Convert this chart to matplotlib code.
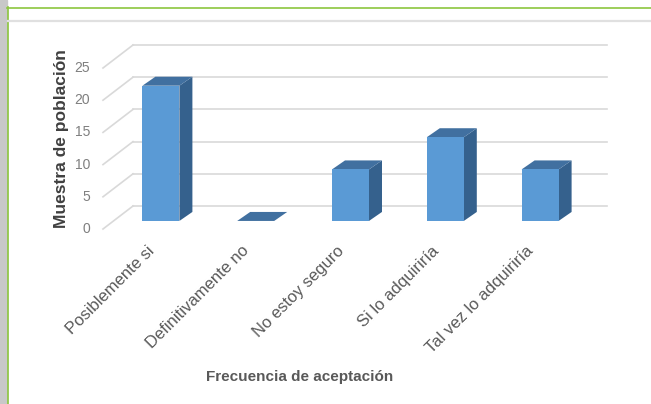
import numpy as np
import matplotlib
matplotlib.use('Agg')
import matplotlib.pyplot as plt
from matplotlib.patches import Polygon, Rectangle
from matplotlib.lines import Line2D

# datos
categorias = ['Posiblemente si', 'Definitivamente no', 'No estoy seguro',
              'Si lo adquiriría', 'Tal vez lo adquiriría']
valores = [21, 0, 8, 13, 8]
yticks = [0, 5, 10, 15, 20, 25]

# proyeccion oblicua (unidades de categoria / de valor)
px_cat = 94.8
px_val = 6.44
fondo_dx = 30 / px_cat      # profundidad del piso
fondo_dy = 23 / px_val
frente = 0.35               # fraccion de profundidad donde empieza la barra
prof_dx = 13 / px_cat       # profundidad de la barra
prof_dy = 9 / px_val
ancho = 37 / px_cat

c_frente = '#5a9ad5'
c_lado = '#35618d'
c_tope = '#4170a0'
c_grid = '#d9d9d9'
c_texto = '#595959'

W, H = 651, 404
fig = plt.figure(figsize=(W / 100, H / 100), dpi=100)
ax = fig.add_axes([0, 0, 1, 1])
# ejes que ocupan toda la figura, front plane: x=-0.5 en px 103, y=0 en px 229
x0 = -0.5 - 103 / px_cat
ax.set_xlim(x0, x0 + W / px_cat)
ax.set_ylim(-(H - 229) / px_val, 229 / px_val)
ax.axis('off')

# marco de la pagina (en fraccion de figura)
fig.patches.append(Rectangle((0, 0), 7 / W, 1, transform=fig.transFigure,
                             color='#c8c8c8', zorder=0))
fig.lines.append(Line2D([7.5 / W, 7.5 / W], [0, 1 - 7 / H], transform=fig.transFigure,
                        color='#8cc63e', lw=1.2))
fig.lines.append(Line2D([7 / W, 1], [1 - 7.5 / H, 1 - 7.5 / H], transform=fig.transFigure,
                        color='#8cc63e', lw=1.2))
fig.lines.append(Line2D([8 / W, 1], [1 - 21 / H, 1 - 21 / H], transform=fig.transFigure,
                        color='#e0e0e0', lw=1.6))

n = len(categorias)
xl, xr = -0.5, n - 0.5
# paredes: lineas de cuadricula
for t in yticks:
    ax.plot([xl + fondo_dx, xr + fondo_dx], [t + fondo_dy, t + fondo_dy],
            color=c_grid, lw=1.2, zorder=1)
    ax.plot([xl, xl + fondo_dx], [t, t + fondo_dy], color=c_grid, lw=1.2, zorder=1)
    ax.text(xl - 13 / px_cat, t, str(t), ha='right', va='center',
            fontsize=10, color='#7f7f7f', family='Liberation Sans')

# barras 3d
for i, v in enumerate(valores):
    bx = i - ancho / 2 + frente * fondo_dx
    by = frente * fondo_dy
    ax.add_patch(Polygon([(bx + ancho, by), (bx + ancho + prof_dx, by + prof_dy),
                          (bx + ancho + prof_dx, by + v + prof_dy), (bx + ancho, by + v)],
                         closed=True, fc=c_lado, ec='none', zorder=3))
    ax.add_patch(Polygon([(bx, by + v), (bx + prof_dx, by + v + prof_dy),
                          (bx + ancho + prof_dx, by + v + prof_dy), (bx + ancho, by + v)],
                         closed=True, fc=c_tope, ec='none', zorder=3))
    if v > 0:
        ax.bar(bx, v, width=ancho, bottom=by, align='edge', color=c_frente,
               edgecolor='none', zorder=4)

# etiquetas de categoria
for i, cat in enumerate(categorias):
    ax.text(i - 0.04, -2.2, cat, rotation=45, rotation_mode='anchor',
            ha='right', va='top', fontsize=12, color=c_texto,
            family='Liberation Sans')

ax.text(62 / px_cat + x0, (229 - 139) / px_val, 'Muestra de población', rotation=90,
        ha='center', va='center', fontsize=12.5, fontweight='bold', color='#404040',
        family='Liberation Sans')
ax.text(x0 + 300 / px_cat, (229 - 377) / px_val, 'Frecuencia de aceptación',
        ha='center', va='center', fontsize=11, fontweight='bold', color=c_texto,
        family='Liberation Sans')

fig.savefig('out.png', dpi=100)
